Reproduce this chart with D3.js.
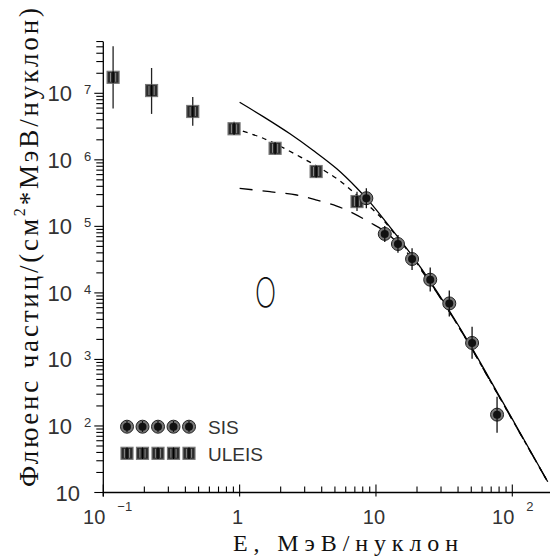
<!DOCTYPE html>
<html><head><meta charset="utf-8">
<script src="https://cdn.jsdelivr.net/npm/d3@7"></script>
<style>body{margin:0;background:#fff}svg{display:block}
.serif{font-family:"Liberation Serif","DejaVu Serif","Noto Serif","Times New Roman",Times,serif}
.sans{font-family:"Liberation Sans",Arial,Helvetica,sans-serif}</style>
</head><body>
<svg id="c" width="550" height="556"></svg>
<script>
// ---- data ----
const sisE    = [8.5, 11.6, 14.5, 18.4, 25, 34.5, 50.7, 77.3];
const sisF    = [2.65e5, 7.7e4, 5.43e4, 3.23e4, 1.58e4, 6.95e3, 1.77e3, 148];
const sisHi   = [3.75e5, 1.01e5, 7.4e4, 4.7e4, 2.4e4, 1.09e4, 3.1e3, 276];
const sisLo   = [1.88e5, 5.8e4, 4.0e4, 2.2e4, 1.05e4, 4.4e3, 1.02e3, 79];
const uleisE  = [0.118, 0.226, 0.453, 0.91, 1.82, 3.64, 7.26];
const uleisF  = [1.74e7, 1.1e7, 5.33e6, 2.93e6, 1.49e6, 6.67e5, 2.36e5];
const uleisHi = [5.1e7, 2.4e7, 8.8e6, 3.73e6, 1.77e6, 7.9e5, 3.3e5];
const uleisLo = [5.9e6, 4.9e6, 3.25e6, 2.38e6, 1.25e6, 5.6e5, 1.7e5];
const solidE  = [1.0, 1.49, 2.34, 3.47, 5.16, 7.23, 9.05, 11.66, 17.8, 24.9, 35.0, 50.5, 76.9, 182];
const solidF  = [7.33e6, 4.46e6, 2.46e6, 1.38e6, 7.33e5, 3.78e5, 2.29e5, 1.21e5, 3.98e4, 1.51e4, 5.16e3, 1.49e3, 330, 14.5];
const dotE    = [0.899, 1.49, 2.78, 4.11, 5.45, 7.23, 10.14, 11.66, 17.8, 24.9, 35.0, 50.5, 76.9, 182];
const dotF    = [2.98e6, 2.11e6, 1.11e6, 7.03e5, 4.81e5, 2.96e5, 1.57e5, 1.16e5, 3.85e4, 1.46e4, 4.99e3, 1.44e3, 318, 14.4];
const dashE   = [1.0, 1.67, 2.62, 3.68, 5.16, 6.83, 9.05, 11.47, 17.8, 24.9, 35.0, 50.5, 76.9, 182];
const dashF   = [3.73e5, 3.32e5, 2.96e5, 2.49e5, 2.02e5, 1.57e5, 1.14e5, 8.53e4, 3.59e4, 1.43e4, 4.99e3, 1.44e3, 318, 14.4];
const yMajor  = [10, 1e2, 1e3, 1e4, 1e5, 1e6, 1e7];
const yExp    = ["", "2", "3", "4", "5", "6", "7"];
const xMajor  = [0.1, 1, 10, 100];
const xBase   = ["10", "1", "10", "10"];
const xExp    = ["\u22121", "", "", "2"];
const legendNames = ["SIS", "ULEIS"];
const yTitle = "Флюенс  частиц/(см";
const yTitle2 = "*МэВ/нуклон)";
const xTitle = "E, МэВ/нуклон";
const ionLabel = "O";

// ---- scales ----
const x = d3.scaleLog().domain([0.1, 100]).range([103.3, 512.3]);
const y = d3.scaleLog().domain([10, 1e7]).range([492.5, 93.3]);
const xEnd = 550, yTop = 41.7;
const svg = d3.select("#c");

// axes lines
svg.append("line").attr("x1", x(0.1)).attr("x2", xEnd).attr("y1", y(10)).attr("y2", y(10)).attr("stroke", "#000").attr("stroke-width", 1.3);
svg.append("line").attr("x1", x(0.1)).attr("x2", x(0.1)).attr("y1", y(10)+4).attr("y2", yTop).attr("stroke", "#000").attr("stroke-width", 1.3);

// y ticks (outward, left)
const yMin = [];
for (let d = 10; d <= 1e7; d *= 10) for (let k = 1; k <= 9; k++) { const v = d*k; if (y(v) >= yTop-0.5) yMin.push(v); }
svg.append("g").selectAll("line").data(yMin).join("line")
  .attr("x1", x(0.1)).attr("x2", d => x(0.1) - (yMajor.includes(d) ? 9 : 7))
  .attr("y1", d => y(d)).attr("y2", d => y(d)).attr("stroke", "#000").attr("stroke-width", 1.1);
// x ticks (inward, up)
const xMin = [];
for (let d = 0.1; d <= 100; d *= 10) for (let k = 1; k <= 9; k++) { const v = +(d*k).toPrecision(3); if (x(v) <= xEnd) xMin.push(v); }
svg.append("g").selectAll("line").data(xMin).join("line")
  .attr("x1", d => x(d)).attr("x2", d => x(d))
  .attr("y1", d => y(10) + (xMajor.includes(d) ? 4 : 0)).attr("y2", d => y(10) - (xMajor.includes(d) ? 8 : 6))
  .attr("stroke", "#000").attr("stroke-width", 1.1);

// y tick labels
yMajor.forEach((v, i) => {
  svg.append("text").attr("class", "sans").attr("x", i === 0 ? 80 : 72).attr("y", y(v) + 8).attr("text-anchor", "end")
    .attr("font-size", 22).attr("fill", "#333").text("10");
  if (yExp[i]) svg.append("text").attr("class", "sans").attr("x", 84).attr("y", y(v) + 1)
    .attr("font-size", 13).attr("fill", "#333").text(yExp[i]);
});
// x tick labels
xMajor.forEach((v, i) => {
  const t = svg.append("text").attr("class", "sans").attr("y", 524).attr("font-size", 20).attr("fill", "#333").text(xBase[i]);
  if (xExp[i]) {
    t.attr("x", x(v) + 2).attr("text-anchor", "end");
    svg.append("text").attr("class", "sans").attr("x", x(v) + 14).attr("y", 511)
      .attr("font-size", 13).attr("fill", "#333").text(xExp[i]);
  } else {
    t.attr("x", x(v) - 2).attr("text-anchor", "middle");
  }
});

// titles
svg.append("text").attr("class", "serif").attr("x", 233).attr("y", 551)
  .attr("font-size", 24).attr("textLength", 225).attr("lengthAdjust", "spacing")
  .attr("fill", "#111").text(xTitle);
const yt = svg.append("text").attr("class", "serif").attr("transform", "translate(38,487) rotate(-90)")
  .attr("font-size", 27).attr("textLength", 479).attr("lengthAdjust", "spacing").attr("fill", "#111");
yt.append("tspan").text(yTitle);
yt.append("tspan").attr("dy", -13).attr("font-size", 16).text("2");
yt.append("tspan").attr("dy", 13).text(yTitle2);

// ion label
svg.append("text").attr("transform", "translate(265.5,307) scale(0.7,1)").attr("text-anchor", "middle")
  .attr("font-family", "Inter, 'Open Sans', sans-serif").attr("font-weight", 200).attr("font-size", 41).attr("fill", "#111").text(ionLabel);

// curves
const line = d3.line().x(d => x(d[0])).y(d => y(d[1])).curve(d3.curveCatmullRom.alpha(0.5));
const plotCurve = (E, F, dash) => svg.append("path").datum(E.map((e, i) => [e, F[i]]))
  .attr("d", line).attr("fill", "none").attr("stroke", "#000").attr("stroke-width", 1.3)
  .attr("stroke-dasharray", dash);
plotCurve(dashE, dashF, "13,10");
plotCurve(dotE, dotF, "5,5");
plotCurve(solidE, solidF, null);

// markers
function square(g, cx, cy) {
  g.append("rect").attr("x", cx-6).attr("y", cy-6).attr("width", 12).attr("height", 12)
    .attr("fill", "#2b2b2b").attr("stroke", "#777").attr("stroke-width", 1.2);
  [-2.6, 2.6].forEach(o => g.append("line").attr("x1", cx+o).attr("x2", cx+o).attr("y1", cy-4.5).attr("y2", cy+4.5)
    .attr("stroke", "#8a8a8a").attr("stroke-width", 1));
}
function circ(g, cx, cy) {
  g.append("circle").attr("cx", cx).attr("cy", cy).attr("r", 6.5).attr("fill", "#777").attr("stroke", "#222").attr("stroke-width", 1);
  g.append("circle").attr("cx", cx).attr("cy", cy).attr("r", 4).attr("fill", "#111");
}
const gU = svg.append("g");
uleisE.forEach((e, i) => {
  gU.append("line").attr("x1", x(e)).attr("x2", x(e)).attr("y1", y(uleisHi[i])).attr("y2", y(uleisLo[i])).attr("stroke", "#222").attr("stroke-width", 1.3);
  square(gU, x(e), y(uleisF[i]));
  gU.append("line").attr("x1", x(e)).attr("x2", x(e)).attr("y1", y(uleisF[i])-6).attr("y2", y(uleisF[i])+6).attr("stroke", "#000").attr("stroke-width", 1.3);
});
const gS = svg.append("g");
sisE.forEach((e, i) => {
  circ(gS, x(e), y(sisF[i]));
  gS.append("line").attr("x1", x(e)).attr("x2", x(e)).attr("y1", y(sisHi[i])).attr("y2", y(sisLo[i])).attr("stroke", "#111").attr("stroke-width", 1.3);
});

// legend
const legX = [127, 142.5, 158, 173.5, 189];
legX.forEach(lx => {
  circ(svg, lx, 426.7);
  svg.append("line").attr("x1", lx).attr("x2", lx).attr("y1", 421).attr("y2", 432).attr("stroke", "#111").attr("stroke-width", 1.2);
  square(svg, lx, 453.3);
  svg.append("line").attr("x1", lx).attr("x2", lx).attr("y1", 447.5).attr("y2", 459).attr("stroke", "#000").attr("stroke-width", 1.2);
});
legendNames.forEach((n, i) => svg.append("text").attr("class", "sans").attr("x", 208).attr("y", 434 + i*27)
  .attr("font-size", 19).attr("fill", "#333").text(n));
</script>
</body></html>
